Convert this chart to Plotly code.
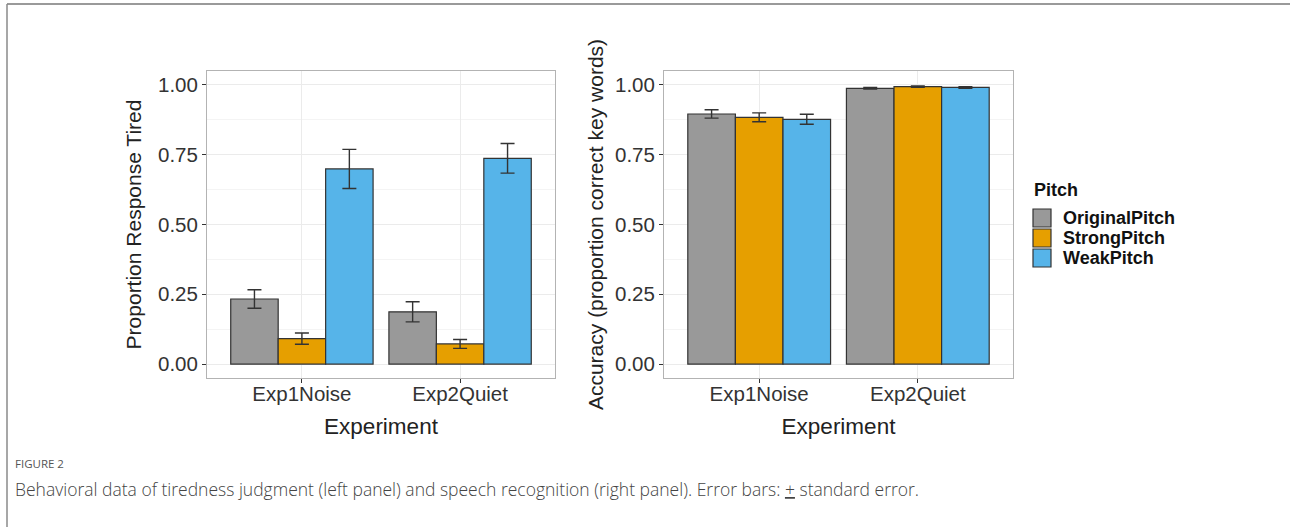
import plotly.graph_objects as go

experiments = ["Exp1Noise", "Exp2Quiet"]
pitches = ["OriginalPitch", "StrongPitch", "WeakPitch"]
colors = ["#999999", "#E69F00", "#56B4E9"]

# Left panel: proportion response tired
tired_mean = {
    "OriginalPitch": [0.233, 0.187],
    "StrongPitch": [0.091, 0.072],
    "WeakPitch": [0.699, 0.737],
}
tired_se = {
    "OriginalPitch": [0.033, 0.036],
    "StrongPitch": [0.020, 0.016],
    "WeakPitch": [0.070, 0.053],
}
# Right panel: accuracy
acc_mean = {
    "OriginalPitch": [0.896, 0.988],
    "StrongPitch": [0.884, 0.994],
    "WeakPitch": [0.877, 0.991],
}
acc_se = {
    "OriginalPitch": [0.015, 0.003],
    "StrongPitch": [0.016, 0.002],
    "WeakPitch": [0.018, 0.003],
}
y_ticks = [0, 0.25, 0.5, 0.75, 1.0]
y_ticklabels = ["0.00", "0.25", "0.50", "0.75", "1.00"]

W, H = 1290, 527
def px(x):
    return x / W
def py(y):
    return 1 - y / H

FONT = "Liberation Sans, Arial, sans-serif"
fig = go.Figure()

for i, p in enumerate(pitches):
    fig.add_trace(go.Bar(
        x=experiments, y=tired_mean[p], name=p,
        marker=dict(color=colors[i], line=dict(color="#333333", width=1.2)),
        error_y=dict(type="data", array=tired_se[p], color="#333333", thickness=1.4, width=7),
        xaxis="x", yaxis="y", showlegend=False,
    ))
    fig.add_trace(go.Bar(
        x=experiments, y=acc_mean[p], name=p,
        marker=dict(color=colors[i], line=dict(color="#333333", width=1.2)),
        error_y=dict(type="data", array=acc_se[p], color="#333333", thickness=1.4, width=7),
        xaxis="x2", yaxis="y2", showlegend=False,
    ))

ydom = [py(378), py(71)]
common_x = dict(
    type="category", range=[-0.6, 1.6], showgrid=True, gridcolor="#EBEBEB", gridwidth=1.2,
    ticks="outside", ticklen=4, tickcolor="#333333", tickwidth=1,
    tickfont=dict(size=20.5, color="#333333", family=FONT), ticklabelstandoff=-7,
    showline=True, mirror=True, linecolor="#B3B3B3", linewidth=1, zeroline=False,
    title=dict(text="Experiment", font=dict(size=22.5, color="#222222", family=FONT), standoff=14),
    automargin=True,
)
common_y = dict(
    range=[-0.05, 1.05], tickvals=y_ticks, ticktext=y_ticklabels,
    showgrid=True, gridcolor="#EBEBEB", gridwidth=1.2,
    minor=dict(tickvals=[0.125, 0.375, 0.625, 0.875], showgrid=True, gridcolor="#F4F4F4", gridwidth=1, ticks=""),
    ticks="outside", ticklen=4, tickcolor="#333333", tickwidth=1,
    tickfont=dict(size=20.5, color="#333333", family=FONT),
    showline=True, mirror=True, linecolor="#B3B3B3", linewidth=1, zeroline=False,
    automargin=True,
)

fig.update_layout(
    width=W, height=H, margin=dict(l=0, r=0, t=0, b=0),
    paper_bgcolor="white", plot_bgcolor="white",
    barmode="group", bargap=0.1, bargroupgap=0,
    showlegend=False,
    xaxis=dict(domain=[px(207), px(555)], anchor="y", **common_x),
    yaxis=dict(domain=ydom, anchor="x",
               title=dict(text="Proportion Response Tired", font=dict(size=21, color="#222222", family=FONT), standoff=10),
               **common_y),
    xaxis2=dict(domain=[px(664), px(1013)], anchor="y2", **common_x),
    yaxis2=dict(domain=ydom, anchor="x2",
                title=dict(text="Accuracy (proportion correct key words)", font=dict(size=21, color="#222222", family=FONT), standoff=5),
                **common_y),
)

shapes = []
annotations = []
# figure frame lines (top and left)
shapes.append(dict(type="line", xref="paper", yref="paper", x0=px(7), x1=1, y0=py(4), y1=py(4),
                   line=dict(color="#9A9A9A", width=2)))
shapes.append(dict(type="line", xref="paper", yref="paper", x0=px(7), x1=px(7), y0=py(4), y1=0,
                   line=dict(color="#8A8A8A", width=1.5)))

# legend
annotations.append(dict(text="<b>Pitch</b>", x=px(1032), y=py(190), xref="paper", yref="paper",
                        xanchor="left", yanchor="middle", showarrow=False,
                        font=dict(size=18, color="#111111", family=FONT)))
for i, p in enumerate(pitches):
    top = 208 + i * 20
    shapes.append(dict(type="rect", xref="paper", yref="paper", x0=px(1033), x1=px(1051),
                       y0=py(top + 19), y1=py(top + 1), fillcolor=colors[i],
                       line=dict(color="#333333", width=1.2)))
    annotations.append(dict(text="<b>" + p + "</b>", x=px(1061), y=py(top + 10), xref="paper", yref="paper",
                            xanchor="left", yanchor="middle", showarrow=False,
                            font=dict(size=18, color="#111111", family=FONT)))

# caption
annotations.append(dict(text="FIGURE 2", x=px(13), y=py(463), xref="paper", yref="paper",
                        xanchor="left", yanchor="middle", showarrow=False,
                        font=dict(size=11.5, color="#555555", family="Open Sans, sans-serif")))
annotations.append(dict(text="Behavioral data of tiredness judgment (left panel) and speech recognition (right panel). Error bars: <u>+</u> standard error.",
                        x=px(13), y=py(489), xref="paper", yref="paper",
                        xanchor="left", yanchor="middle", showarrow=False,
                        font=dict(size=17.5, color="#444444", family="Open Sans, sans-serif", weight=300)))

fig.update_layout(shapes=shapes, annotations=annotations)
fig.write_html("out.html", config={"displayModeBar": False},
               post_script="document.body.style.margin='0';document.body.style.overflow='hidden';")
